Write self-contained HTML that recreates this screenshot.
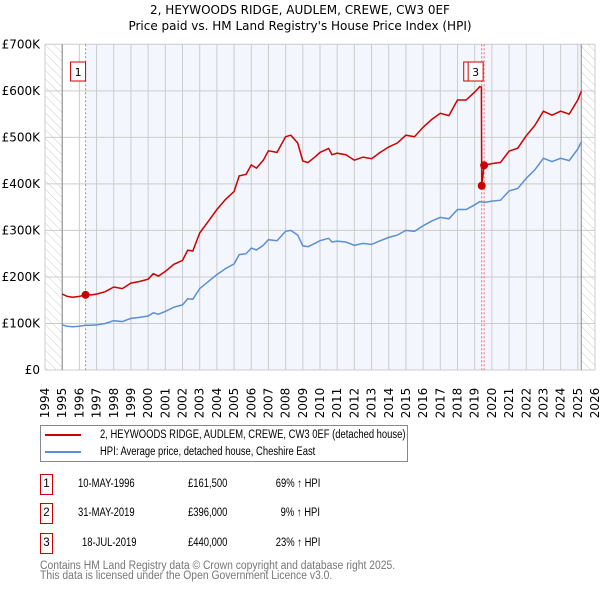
<!DOCTYPE html>
<html><head><meta charset="utf-8"><style>
body{margin:0;background:#fff;font-family:"Liberation Sans","DejaVu Sans",sans-serif;}
#wrap{position:relative;width:600px;height:590px;overflow:hidden}
.sq{display:inline-block;transform:scaleX(0.82);transform-origin:0 50%;white-space:nowrap}
.sf{display:inline-block;transform:scaleX(0.9);transform-origin:0 50%;white-space:nowrap}
</style></head><body><div id="wrap">
<svg id="chart" width="600" height="590" style="position:absolute;left:0;top:0;font-family:'DejaVu Sans','Liberation Sans',sans-serif">
<defs><pattern id="hatch" width="6" height="6" patternUnits="userSpaceOnUse" patternTransform="rotate(-45)"><line x1="0" y1="0" x2="0" y2="6" stroke="#ccc" stroke-width="1"/></pattern></defs>
<text x="300" y="14" text-anchor="middle" font-size="12">2, HEYWOODS RIDGE, AUDLEM, CREWE, CW3 0EF</text>
<text x="300" y="30" text-anchor="middle" font-size="12">Price paid vs. HM Land Registry's House Price Index (HPI)</text>
<g id="plot"></g>
</svg>
<div style="position:absolute;left:40px;top:425px;width:366px;height:35px;border:1px solid #888;font-size:11.5px;font-family:'Liberation Sans','DejaVu Sans',sans-serif">
<div style="position:absolute;left:4px;top:3px;white-space:nowrap"><span style="display:inline-block;width:36px;height:2px;background:#cc0000;vertical-align:middle;margin-right:19px"></span><span class="sq">2, HEYWOODS RIDGE, AUDLEM, CREWE, CW3 0EF (detached house)</span></div>
<div style="position:absolute;left:4px;top:20px;white-space:nowrap"><span style="display:inline-block;width:36px;height:2px;background:#5b8fd4;vertical-align:middle;margin-right:19px"></span><span class="sq">HPI: Average price, detached house, Cheshire East</span></div>
</div>
<div id="tbl" style="font-size:11.5px;font-family:'Liberation Sans','DejaVu Sans',sans-serif"></div>
<div style="position:absolute;left:40px;top:561px;font-size:11.5px;line-height:10px;color:#777;font-family:'Liberation Sans','DejaVu Sans',sans-serif"><span class="sf">Contains HM Land Registry data © Crown copyright and database right 2025.</span><br><span class="sf">This data is licensed under the Open Government Licence v3.0.</span></div>
</div>
<script>
const hpiYears=[1995,1995.3,1995.6,1996,1996.36,1996.7,1997,1997.5,1998,1998.5,1999,1999.5,2000,2000.3,2000.6,2001,2001.5,2002,2002.3,2002.6,2003,2003.5,2004,2004.5,2005,2005.3,2005.7,2006,2006.3,2006.7,2007,2007.5,2008,2008.3,2008.7,2009,2009.3,2009.7,2010,2010.5,2010.7,2011,2011.5,2012,2012.5,2013,2013.5,2014,2014.5,2015,2015.5,2016,2016.5,2017,2017.5,2018,2018.5,2019,2019.3,2019.55,2020,2020.5,2021,2021.5,2022,2022.5,2023,2023.5,2024,2024.5,2025,2025.2];
const hpiValues=[97,94,93,94,96,96,97,100,106,104,111,113,116,123,120,126,135,140,153,152,175,190,205,218,228,248,250,262,258,268,280,278,298,300,290,267,265,272,278,283,275,277,275,268,272,270,278,285,290,300,298,310,320,328,325,345,345,355,362,360,363,365,385,390,412,430,455,448,455,450,475,490];
const saleLabels=["1","2","3"];
const saleYears=[1996.36,2019.41,2019.55];
const salePrices=[161.5,396,440];
const saleDates=["10-MAY-1996","31-MAY-2019","18-JUL-2019"];
const salePriceText=["£161,500","£396,000","£440,000"];
const salePct=["69% \u2191 HPI","9% \u2191 HPI","23% \u2191 HPI"];
const yTicks=[0,100,200,300,400,500,600,700];
const yTickLabels=["£0","£100K","£200K","£300K","£400K","£500K","£600K","£700K"];
const xTicks=[];for(let y=1994;y<=2026;y++)xTicks.push(y);

const X=y=>45+(y-1994)*(550/32);
const Y=v=>370-v*(325.7/700);
const NS="http://www.w3.org/2000/svg";
const plot=document.getElementById('plot');
function mk(tag,attrs,parent){const e=document.createElementNS(NS,tag);for(const k in attrs)e.setAttribute(k,attrs[k]);(parent||plot).appendChild(e);return e;}
function hpiAt(t){for(let i=0;i<hpiYears.length-1;i++){if(t>=hpiYears[i]&&t<=hpiYears[i+1]){const f=(t-hpiYears[i])/(hpiYears[i+1]-hpiYears[i]);return hpiValues[i]+f*(hpiValues[i+1]-hpiValues[i]);}}return hpiValues[hpiValues.length-1];}
const pTop=Y(700),pBot=Y(0),endT=2025.2;
let r=mk('rect',{x:X(saleYears[0]),y:pTop,width:X(endT)-X(saleYears[0]),height:pBot-pTop,fill:'#f3f6fd'});


let h1=mk('rect',{x:X(1994),y:pTop,width:X(1995)-X(1994),height:pBot-pTop,fill:'url(#hatch)'});


let h2=mk('rect',{x:X(endT),y:pTop,width:X(2026)-X(endT),height:pBot-pTop,fill:'url(#hatch)'});


xTicks.forEach(t=>{let l=mk('line',{x1:X(t),x2:X(t),y1:pTop,y2:pBot,stroke:'#ccc','stroke-width':1});


let tx=mk('text',{x:0,y:0,transform:`translate(${X(t)+4},${pBot+33}) rotate(-90)`,'font-size':12,'text-anchor':'middle'});tx.textContent=t;

});
yTicks.forEach((v,i)=>{let l=mk('line',{x1:X(1994),x2:X(2026),y1:Y(v),y2:Y(v),stroke:'#ccc','stroke-width':1});


let tx=mk('text',{x:40,y:Y(v)+4,'font-size':12,'text-anchor':'end'});tx.textContent=yTickLabels[i];

});
[1995,endT].forEach(t=>{let l=mk('line',{x1:X(t),x2:X(t),y1:pTop,y2:pBot,stroke:'#888','stroke-width':1});

});
saleYears.forEach(t=>{let l=mk('line',{x1:X(t),x2:X(t),y1:pTop,y2:pBot,stroke:'#f07070','stroke-width':1,'stroke-dasharray':'2,2'});

});
let hp=hpiYears.map((t,i)=>X(t).toFixed(1)+','+Y(hpiValues[i]).toFixed(1)).join(' ');
let hl=mk('polyline',{points:hp,fill:'none',stroke:'#5b8fd4','stroke-width':1.5});


const pts=[];
const r1=salePrices[0]/hpiAt(saleYears[0]);
const r3=salePrices[2]/hpiAt(saleYears[2]);
hpiYears.forEach((t,i)=>{if(t<saleYears[1])pts.push([t,hpiValues[i]*r1]);});
pts.push([saleYears[1]-0.02,hpiAt(saleYears[1]-0.02)*r1]);
pts.push([saleYears[1],salePrices[1]]);
pts.push([saleYears[2],salePrices[2]]);
hpiYears.forEach((t,i)=>{if(t>saleYears[2])pts.push([t,hpiValues[i]*r3]);});
let pl=mk('polyline',{points:pts.map(p=>X(p[0]).toFixed(1)+','+Y(p[1]).toFixed(1)).join(' '),fill:'none',stroke:'#cc0000','stroke-width':1.5});


saleYears.forEach((t,i)=>{let c=mk('circle',{cx:X(t),cy:Y(salePrices[i]),r:4,fill:'#cc0000'});

});
[[0,X(saleYears[0])-7],[1,X(saleYears[1])-10],[2,X(saleYears[2])-8]].forEach(([i,bx])=>{
 let g=mk('g',{});
 
 
 mk('rect',{x:bx-8,y:62,width:15,height:19,fill:'#fff',stroke:'#cc0000','stroke-width':1},g);
 let t=mk('text',{x:bx-0.5,y:76,'font-size':11,'text-anchor':'middle'},g);t.textContent=saleLabels[i];});
const tbl=document.getElementById('tbl');
const rowY=[474,503,533];
saleLabels.forEach((s,i)=>{
 const row=document.createElement('div');
 
 
 row.style.cssText=`position:absolute;left:0;top:${rowY[i]}px;width:600px;height:20px`;
 row.innerHTML=`<span style="position:absolute;left:40px;top:0;width:11px;height:19px;border:1px solid #cc0000;text-align:center;line-height:19px">${s}</span><span class="sq" style="position:absolute;left:${i==2?82:78}px;line-height:20px">${saleDates[i]}</span><span class="sq" style="position:absolute;left:188px;line-height:20px">${salePriceText[i]}</span><span style="position:absolute;left:260px;width:60px;text-align:right;line-height:20px"><span class="sq" style="transform-origin:100% 50%">${salePct[i]}</span></span>`;
 tbl.appendChild(row);
});
</script>
</body></html>
